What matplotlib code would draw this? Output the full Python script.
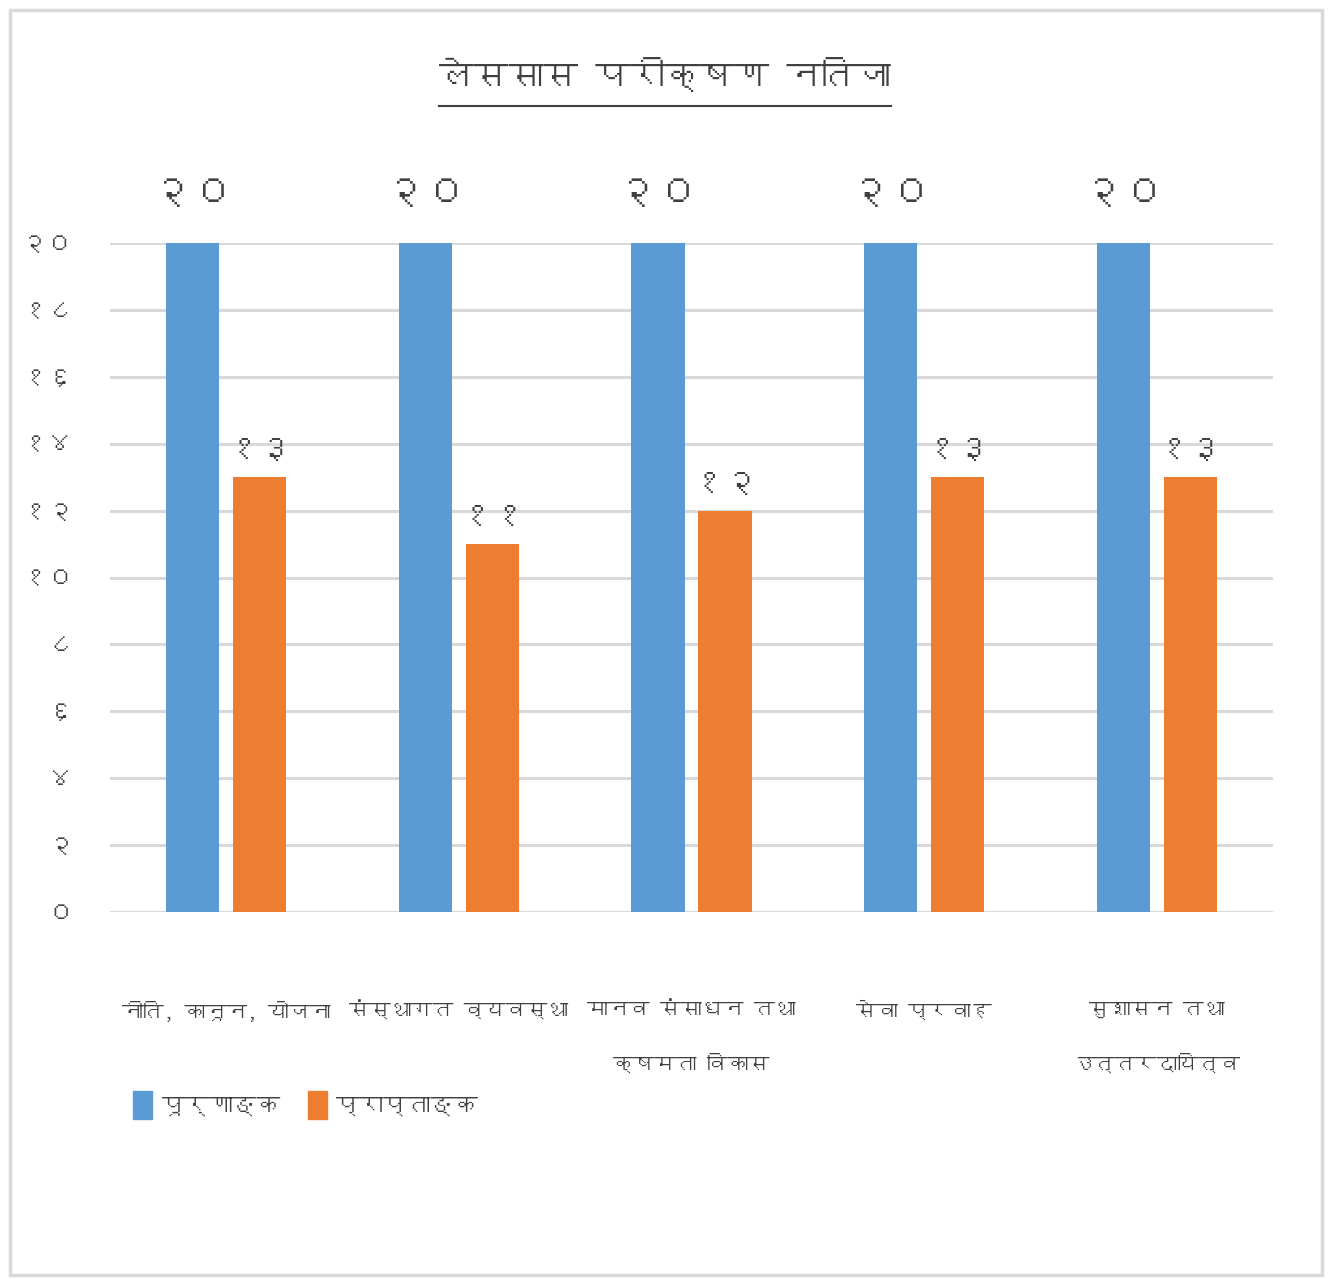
import numpy as np
import matplotlib
matplotlib.use("Agg")
import matplotlib.pyplot as plt
from matplotlib import font_manager, ft2font
from matplotlib.patches import Rectangle, Patch
from matplotlib.lines import Line2D

# data
title = "लेससास परीक्षण नतिजा"
categories = ["नीति, कानून, योजना", "संस्थागत व्यवस्था", "मानव संसाधन तथा\nक्षमता विकास",
              "सेवा प्रवाह", "सुशासन तथा\nउत्तरदायित्व"]
series_names = ["पूर्णाङ्क", "प्राप्ताङ्क"]
full_marks = [20, 20, 20, 20, 20]
obtained = [13, 11, 12, 13, 13]
yticks = [0, 2, 4, 6, 8, 10, 12, 14, 16, 18, 20]

DEV_DIGITS = "०१२३४५६७८९"
def dev_num(n):
    return "".join(DEV_DIGITS[int(c)] for c in str(n))

# look for any installed font that has Devanagari glyphs
deva_family = None
for f in font_manager.fontManager.ttflist:
    try:
        cmap = ft2font.FT2Font(f.fname).get_charmap()
    except Exception:
        continue
    if 0x0928 in cmap and 0x0966 in cmap:
        deva_family = f.name
        break
fams = [deva_family, "DejaVu Sans"] if deva_family else ["DejaVu Sans"]
plt.rcParams["font.family"] = fams

blue = "#5B9BD5"
orange = "#ED7D31"
grid_c = "#D9D9D9"
txt_c = "#404040"

W, H = 1330, 1279
fig = plt.figure(figsize=(W / 100, H / 100), dpi=100)

# outer chart border
fig.patches.append(Rectangle((10 / W, 4 / H), 1312 / W, 1265 / H, transform=fig.transFigure,
                             fill=False, edgecolor=grid_c, linewidth=2.5))

ax = fig.add_axes([110 / W, 1 - 912 / H, 1163 / W, 669 / H])
x = np.arange(len(categories))
bw = 0.228
off = 0.144
b1 = ax.bar(x - off, full_marks, bw, color=blue, zorder=3)
b2 = ax.bar(x + off, obtained, bw, color=orange, zorder=3)

ax.set_xlim(-0.5, len(categories) - 0.5)
ax.set_ylim(0, 20)
ax.set_yticks(yticks)
ax.set_yticklabels([dev_num(v) for v in yticks], fontsize=19, color=txt_c)
ax.set_xticks(x)
ax.set_xticklabels(categories, fontsize=15, color=txt_c, linespacing=3.0)
ax.tick_params(axis="y", length=0, pad=26)
ax.tick_params(axis="x", length=0, pad=64)
ax.yaxis.grid(True, color=grid_c, linewidth=2.2, zorder=0)
ax.set_axisbelow(True)
for s in ax.spines.values():
    s.set_visible(False)

# data labels
for xi, v in zip(x, full_marks):
    ax.annotate(dev_num(v), (xi - off, v), xytext=(0, 24), textcoords="offset points",
                ha="center", va="bottom", fontsize=30, fontweight="bold", color=txt_c,
                annotation_clip=False)
for xi, v in zip(x, obtained):
    ax.annotate(dev_num(v), (xi + off, v), xytext=(0, 10), textcoords="offset points",
                ha="center", va="bottom", fontsize=24, color=txt_c, annotation_clip=False)

# title with underline
t = fig.text(0.5, 1 - 75 / H, title, ha="center", va="center", fontsize=25, color=txt_c)
fig.canvas.draw()
bb = t.get_window_extent().transformed(fig.transFigure.inverted())
fig.lines.append(Line2D([bb.x0, bb.x1], [1 - 106 / H] * 2, transform=fig.transFigure,
                        color=txt_c, linewidth=1.5))

# legend
handles = [Patch(color=blue), Patch(color=orange)]
fig.legend(handles, series_names, loc="center left", bbox_to_anchor=(112 / W, 1 - 1105 / H),
           ncol=2, frameon=False, fontsize=17, handlelength=0.8, handleheight=1.4,
           handletextpad=0.4, columnspacing=1.2, labelcolor=txt_c)

fig.savefig("out.png", dpi=100, facecolor="white")
